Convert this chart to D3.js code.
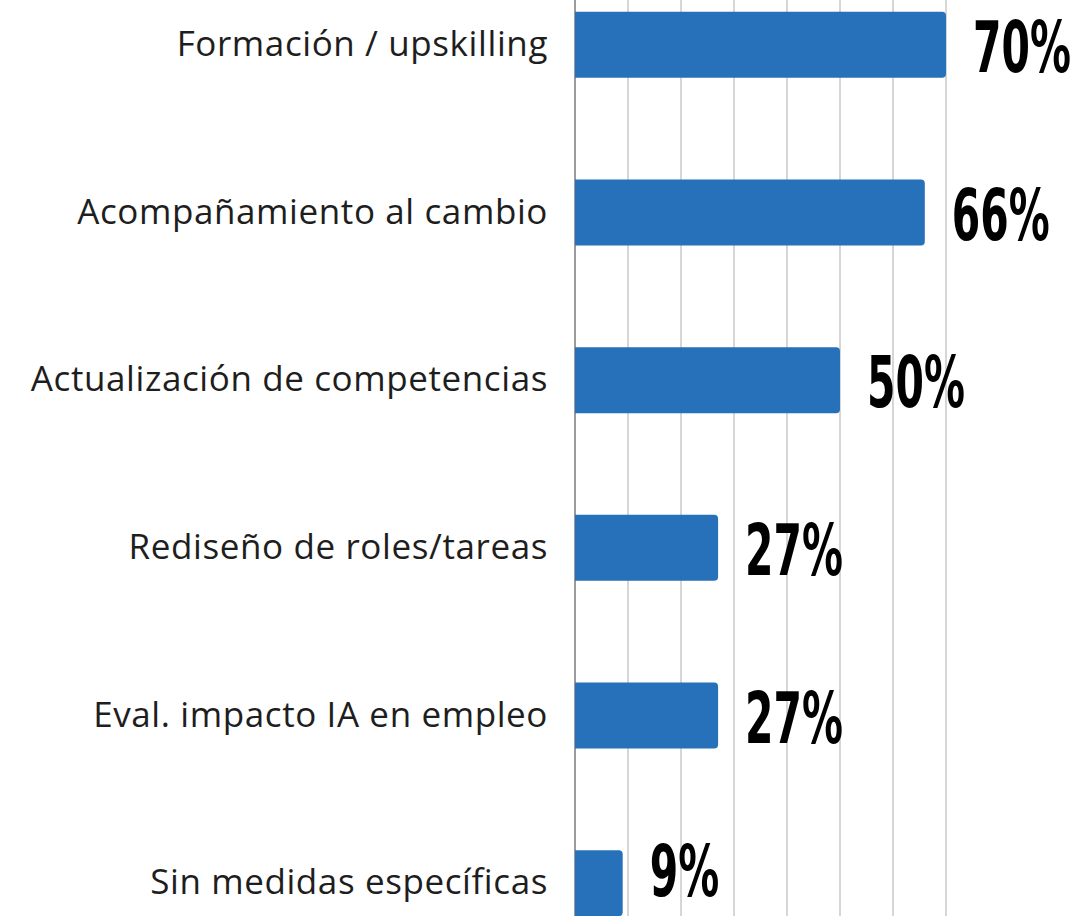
<!DOCTYPE html>
<html lang="es">
<head>
<meta charset="UTF-8" />
<title>Medidas ante la IA</title>
<script src="https://cdn.jsdelivr.net/npm/d3@7"></script>
<style>
    body { margin: 0; background: #fff; }
    svg { display: block; }
    .cat { font: 400 35px "Open Sans", Lato, sans-serif; letter-spacing: 0.6px; fill: #1e1e1e; }
    .val { font-family: "DejaVu Sans Condensed", "DejaVu Sans", sans-serif; font-weight: 700; font-size: 71px; fill: #000; }
    .grid line { stroke: #c8c8c8; stroke-width: 1.5px; }
    .axis-line { stroke: #7a7a7a; stroke-width: 1.5px; }
</style>
</head>
<body>
<svg></svg>
<script>
    const categories = [
        "Formación / upskilling",
        "Acompañamiento al cambio",
        "Actualización de competencias",
        "Rediseño de roles/tareas",
        "Eval. impacto IA en empleo",
        "Sin medidas específicas",
    ];
    const values = [70, 66, 50, 27, 27, 9];
    const gridTicks = [10, 20, 30, 40, 50, 60, 70];

    const width = 1076, height = 916;
    const plotLeft = 575, plotRight = 946;
    const barColor = "#2771bb";

    const svg = d3.select("svg").attr("width", width).attr("height", height);

    const x = d3.scaleLinear().domain([0, 70]).range([plotLeft, plotRight]);
    const y = d3.scaleBand()
        .domain(categories)
        .range([-39, 967])
        .paddingInner(0.606)
        .paddingOuter(0.303);

    // vertical grid lines
    svg.append("g")
        .attr("class", "grid")
        .selectAll("line")
        .data(gridTicks)
        .enter()
        .append("line")
        .attr("x1", (d) => x(d))
        .attr("x2", (d) => x(d))
        .attr("y1", 0)
        .attr("y2", height);

    svg.append("line")
        .attr("class", "axis-line")
        .attr("x1", x(0))
        .attr("x2", x(0))
        .attr("y1", 0)
        .attr("y2", height);

    const rows = categories.map((c, i) => ({ cat: c, val: values[i] }));

    // bars, rounded on the right end only
    const r = 4;
    svg.append("g")
        .selectAll("path")
        .data(rows)
        .enter()
        .append("path")
        .attr("fill", barColor)
        .attr("d", (d) => {
            const x0 = x(0), x1 = x(d.val), y0 = y(d.cat), h = y.bandwidth();
            return `M${x0},${y0}H${x1 - r}Q${x1},${y0} ${x1},${y0 + r}V${y0 + h - r}Q${x1},${y0 + h} ${x1 - r},${y0 + h}H${x0}Z`;
        });

    // category labels
    svg.append("g")
        .selectAll("text")
        .data(rows)
        .enter()
        .append("text")
        .attr("class", "cat")
        .attr("text-anchor", "end")
        .attr("x", plotLeft - 27)
        .attr("y", (d) => y(d.cat) + y.bandwidth() / 2 + 11)
        .text((d) => d.cat);

    // value labels (condensed look), kept inside the bottom edge
    svg.append("g")
        .selectAll("text")
        .data(rows)
        .enter()
        .append("text")
        .attr("class", "val")
        .attr("transform", (d) => {
            const by = Math.min(y(d.cat) + y.bandwidth() / 2 + 27, height - 20);
            return `translate(${x(d.val) + 27},${by}) scale(0.64,1)`;
        })
        .text((d) => d.val + "%");
</script>
</body>
</html>
